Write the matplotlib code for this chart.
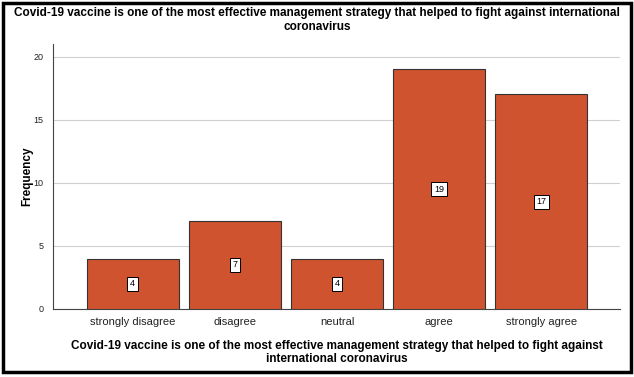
import matplotlib.pyplot as plt
from matplotlib.patches import Rectangle

categories = ["strongly disagree", "disagree", "neutral", "agree", "strongly agree"]
counts = [4, 7, 4, 19, 17]
yticks = [0, 5, 10, 15, 20]

title = ("Covid-19 vaccine is one of the most effective management strategy that helped to fight against international\n"
         "coronavirus")
xlabel = ("Covid-19 vaccine is one of the most effective management strategy that helped to fight against\n"
          "international coronavirus")

plt.rcParams['font.family'] = ['Liberation Sans', 'DejaVu Sans']

W, H = 634, 377
fig = plt.figure(figsize=(W / 100, H / 100), dpi=100)
ax = fig.add_axes([53 / W, 1 - 309 / H, (620 - 53) / W, (309 - 44) / H])

x = range(len(categories))
bars = ax.bar(x, counts, width=0.9, color="#d0532f", edgecolor="#333333", linewidth=0.8, zorder=3)
for xi, c in zip(x, counts):
    ax.text(xi, c / 2, str(c), ha="center", va="center", fontsize=6.5, zorder=4,
            bbox=dict(boxstyle="square,pad=0.3", fc="white", ec="black", lw=0.7))

ax.set_xlim(-0.78, 4.77)
ax.set_ylim(0, 21.0)
ax.set_yticks(yticks)
ax.set_xticks(list(x))
ax.set_xticklabels(categories, fontsize=8, color="#222222")
ax.tick_params(axis="y", labelsize=6.5, length=0, pad=7, colors="#222222")
ax.tick_params(axis="x", length=0, pad=6)
ax.yaxis.grid(True, color="#d0d0d0", linewidth=0.8, zorder=0)
ax.set_axisbelow(True)
for s in ["top", "right"]:
    ax.spines[s].set_visible(False)
ax.spines["left"].set_color("#444444")
ax.spines["bottom"].set_color("#444444")
ax.spines["left"].set_linewidth(0.8)
ax.spines["bottom"].set_linewidth(0.8)

ax.set_ylabel("Frequency", fontsize=8.5, fontweight="bold")
ax.yaxis.set_label_coords(-0.035, 0.5)
ax.set_xlabel(xlabel, fontsize=8.5, fontweight="bold", labelpad=9, linespacing=1.1)
fig.text(317 / W, 1 - 20 / H, title, ha="center", va="center", fontsize=8.5,
         fontweight="bold", linespacing=1.15)

fig.patches.append(Rectangle((3 / W, 1 - 372 / H), 628 / W, 369 / H, transform=fig.transFigure,
                             fill=False, edgecolor="black", linewidth=2.5))

fig.savefig("out.png", dpi=100)
